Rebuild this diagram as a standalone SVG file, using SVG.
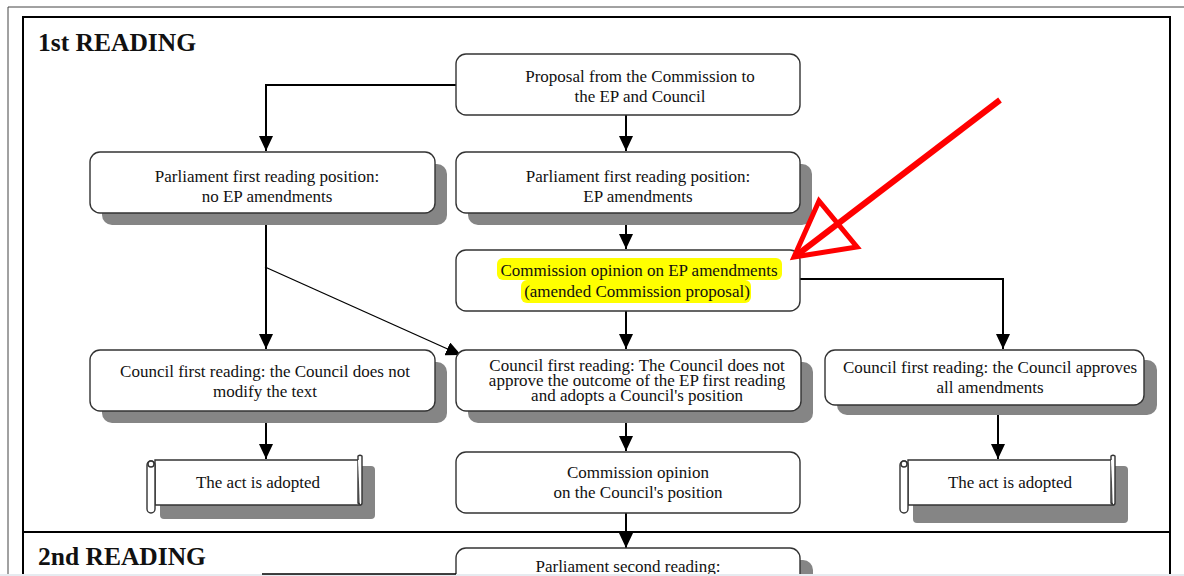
<svg xmlns="http://www.w3.org/2000/svg" width="1184" height="576" viewBox="0 0 1184 576">
<defs>
<style>
.box{fill:#fff;stroke:#333;stroke-width:1.4}
.sh{fill:#858585}
.t{font-family:"Liberation Serif","Times New Roman",serif;font-size:17px;fill:#111;text-anchor:middle}
.h{font-family:"Liberation Serif","Times New Roman",serif;font-size:25.5px;font-weight:bold;fill:#111}
.c{fill:none;stroke:#000;stroke-width:2}
.hl{fill:#ffff00}
</style>
<marker id="ah" markerUnits="userSpaceOnUse" markerWidth="15" markerHeight="14" refX="15" refY="7" orient="auto">
<path d="M0,0 L15,7 L0,14 Z" fill="#000"/>
</marker>
</defs>
<rect width="1184" height="576" fill="#fff"/>
<!-- frames -->
<path d="M8,576 V7 H1184" fill="none" stroke="#444" stroke-width="1"/>
<path d="M23,576 V17 H1170 V576" fill="none" stroke="#000" stroke-width="2"/>
<line x1="23" y1="532" x2="1170" y2="532" stroke="#000" stroke-width="2"/>
<rect x="0" y="574" width="1184" height="2" fill="#e6ebf0"/>
<text class="h" x="38" y="51">1st READING</text>
<text class="h" x="38" y="565">2nd READING</text>

<g id="connectors">
<path class="c" d="M456,85 H266 V151" marker-end="url(#ah)"/>
<path class="c" d="M626,115 V151" marker-end="url(#ah)"/>
<path class="c" d="M626,213 V249" marker-end="url(#ah)"/>
<path class="c" d="M626,311 V349" marker-end="url(#ah)"/>
<path class="c" d="M800,279 H1003 V349" marker-end="url(#ah)"/>
<path class="c" d="M266,213 V349" marker-end="url(#ah)"/>
<path d="M265,267 L461,355" fill="none" stroke="#000" stroke-width="1.3" marker-end="url(#ah)"/>
<path class="c" d="M266,411 V459" marker-end="url(#ah)"/>
<path class="c" d="M626,411 V451" marker-end="url(#ah)"/>
<path class="c" d="M998,405 V459" marker-end="url(#ah)"/>
<path class="c" d="M626,513 V548" marker-end="url(#ah)"/>
</g>

<g id="n-proposal">
<rect class="box" x="456" y="54" width="344" height="61" rx="10"/>
<text class="t" x="640" y="82">Proposal from the Commission to</text>
<text class="t" x="640" y="102">the EP and Council</text>
</g>

<g id="n-ep-none">
<rect class="sh" x="102" y="164" width="345" height="61" rx="10"/>
<rect class="box" x="90" y="152" width="345" height="61" rx="10"/>
<text class="t" x="267" y="182">Parliament first reading position:</text>
<text class="t" x="267" y="202">no EP amendments</text>
</g>

<g id="n-ep-amend">
<rect class="sh" x="468" y="164" width="344" height="61" rx="10"/>
<rect class="box" x="456" y="152" width="344" height="61" rx="10"/>
<text class="t" x="638" y="182">Parliament first reading position:</text>
<text class="t" x="638" y="202">EP amendments</text>
</g>

<g id="n-comm-opinion">
<rect class="box" x="456" y="250" width="344" height="61" rx="10"/>
<rect class="hl" x="497" y="258" width="285" height="22" rx="6"/>
<rect class="hl" x="521" y="280" width="230" height="23" rx="6"/>
<text class="t" x="639" y="276">Commission opinion on EP amendments</text>
<text class="t" x="637" y="297">(amended Commission proposal)</text>
</g>

<g id="n-council-nomod">
<rect class="sh" x="102" y="362" width="345" height="61" rx="10"/>
<rect class="box" x="90" y="350" width="345" height="61" rx="10"/>
<text class="t" x="265" y="377">Council first reading: the Council does not</text>
<text class="t" x="265" y="397">modify the text</text>
</g>

<g id="n-council-position">
<rect class="sh" x="468" y="362" width="345" height="61" rx="10"/>
<rect class="box" x="456" y="350" width="345" height="61" rx="10"/>
<text class="t" x="637" y="371">Council first reading: The Council does not</text>
<text class="t" x="637" y="386">approve the outcome of the EP first reading</text>
<text class="t" x="637" y="401">and adopts a Council's position</text>
</g>

<g id="n-council-approves">
<rect class="sh" x="837" y="360" width="320" height="55" rx="10"/>
<rect class="box" x="825" y="350" width="319" height="55" rx="10"/>
<text class="t" x="990" y="373">Council first reading: the Council approves</text>
<text class="t" x="990" y="393">all amendments</text>
</g>

<g id="n-act-left">
<rect class="sh" x="160" y="466" width="215" height="53" rx="4"/>
<path class="box" d="M155,460 H358 V503 Q362,505 360,505 H155 Z"/>
<path class="box" d="M358,460 V456 A3.5,3.5 0 0 1 362,456 V503 Q362,505 360,505"/>
<rect class="box" x="147" y="461" width="8" height="52" rx="4"/>
<circle class="box" cx="151" cy="464" r="3"/>
<text class="t" x="258" y="488">The act is adopted</text>
</g>

<g id="n-comm-council">
<rect class="box" x="456" y="452" width="344" height="61" rx="10"/>
<text class="t" x="638" y="478">Commission opinion</text>
<text class="t" x="638" y="498">on the Council's position</text>
</g>

<g id="n-act-right">
<rect class="sh" x="913" y="466" width="215" height="57" rx="4"/>
<path class="box" d="M908,460 H1111 V503 Q1115,505 1113,505 H908 Z"/>
<path class="box" d="M1111,460 V456 A3.5,3.5 0 0 1 1115,456 V503 Q1115,505 1113,505"/>
<rect class="box" x="900" y="461" width="8" height="52" rx="4"/>
<circle class="box" cx="904" cy="464" r="3"/>
<text class="t" x="1010" y="488">The act is adopted</text>
</g>

<g id="n-ep-second">
<rect class="sh" x="468" y="560" width="345" height="61" rx="10"/>
<rect class="box" x="456" y="548" width="344" height="61" rx="10"/>
<text class="t" x="628" y="572">Parliament second reading:</text>
</g>
<rect x="0" y="574" width="1184" height="2" fill="#e6ebf0"/>
<line x1="262" y1="574" x2="456" y2="574" stroke="#000" stroke-width="1.5"/>

<g id="red-arrow">
<line x1="1000" y1="100" x2="797" y2="255" stroke="#ff0000" stroke-width="6"/>
<polygon points="794,257 819,201 857,247" fill="none" stroke="#ff0000" stroke-width="5" stroke-linejoin="miter"/>
</g>
</svg>
